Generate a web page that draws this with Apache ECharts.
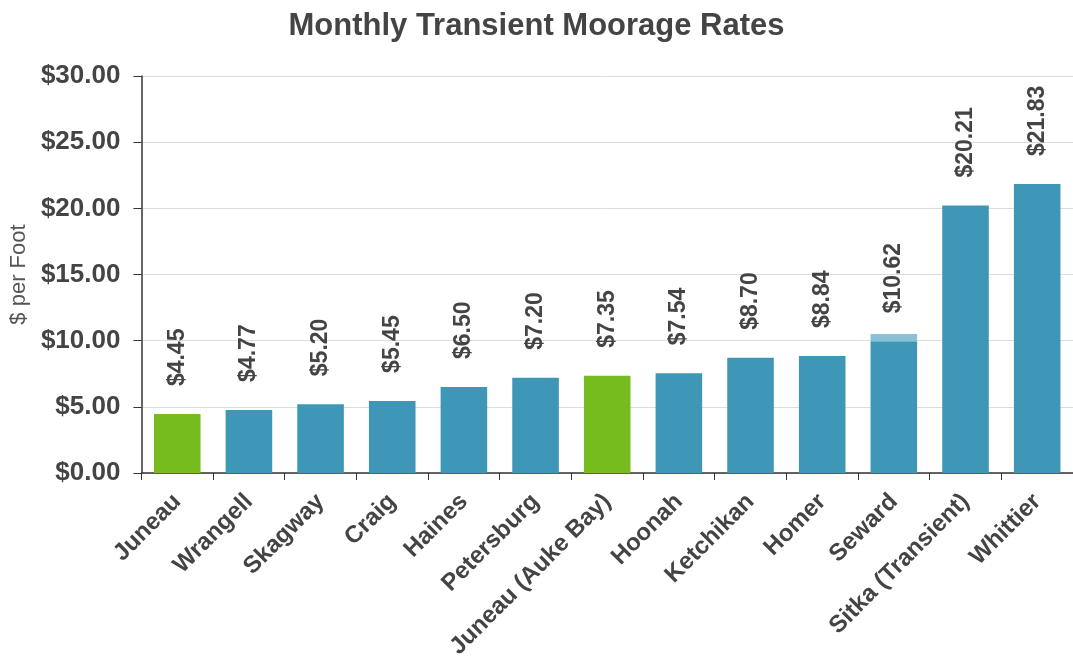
<!DOCTYPE html>
<html>
<head>
<meta charset="utf-8">
<script src="https://cdn.jsdelivr.net/npm/echarts@6/dist/echarts.min.js"></script>
<style>
  html, body { margin: 0; padding: 0; background: #fff; }
  #chart { width: 1073px; height: 670px; }
</style>
</head>
<body>
<div id="chart"></div>
<script>
  // data
  const harbors = ['Juneau', 'Wrangell', 'Skagway', 'Craig', 'Haines', 'Petersburg', 'Juneau (Auke Bay)',
    'Hoonah', 'Ketchikan', 'Homer', 'Seward', 'Sitka (Transient)', 'Whittier']
  const rates = [4.45, 4.77, 5.20, 5.45, 6.50, 7.20, 7.35, 7.54, 8.70, 8.84, 10.62, 20.21, 21.83]
  // Seward bar is drawn with a lighter cap on top
  const baseDrawn = [4.45, 4.77, 5.20, 5.45, 6.50, 7.20, 7.35, 7.54, 8.70, 8.84, 9.95, 20.21, 21.83]
  const capDrawn = [0, 0, 0, 0, 0, 0, 0, 0, 0, 0, 0.55, 0, 0]
  const juneauOwned = ['Juneau', 'Juneau (Auke Bay)']

  const blue = '#3f97b8'
  const green = '#76bc1f'
  const textColor = '#444'
  const font = 'Liberation Sans, Arial, sans-serif'

  const chart = echarts.init(document.getElementById('chart'))

  chart.setOption({
    animation: false,
    textStyle: { fontFamily: font },
    title: {
      text: 'Monthly Transient Moorage Rates',
      left: 'center',
      top: 6,
      textStyle: { fontSize: 31, fontWeight: 'bold', color: textColor, fontFamily: font }
    },
    grid: { left: 139, right: 0, top: 76, bottom: 197 },
    xAxis: {
      type: 'category',
      data: harbors,
      axisLine: { lineStyle: { color: '#333', width: 1.5 } },
      axisTick: { show: true, alignWithLabel: false, length: 7, lineStyle: { color: '#333' } },
      axisLabel: {
        rotate: 45,
        interval: 0,
        margin: 25,
        fontSize: 24,
        fontWeight: 'bold',
        color: textColor,
        fontFamily: font
      }
    },
    yAxis: {
      type: 'value',
      min: 0,
      max: 30,
      interval: 5,
      name: '$ per Foot',
      nameLocation: 'middle',
      nameRotate: 90,
      nameGap: 110,
      nameTextStyle: { fontSize: 22, color: '#555', fontFamily: font },
      axisLine: { show: true, lineStyle: { color: '#333', width: 1.5 } },
      axisTick: { show: true, length: 8, lineStyle: { color: '#333' } },
      splitLine: { lineStyle: { color: '#dcdcdc' } },
      axisLabel: {
        formatter: v => '$' + v.toFixed(2),
        fontSize: 26,
        fontWeight: 'bold',
        color: textColor,
        margin: 21,
        fontFamily: font
      }
    },
    series: [
      {
        name: 'rate',
        type: 'bar',
        stack: 'r',
        barWidth: '65%',
        data: baseDrawn.map((v, i) => ({
          value: v,
          itemStyle: { color: juneauOwned.includes(harbors[i]) ? green : blue }
        })),
        label: {
          show: true,
          position: 'top',
          distance: 28,
          rotate: 90,
          align: 'left',
          verticalAlign: 'middle',
          fontSize: 23,
          fontWeight: 'bold',
          color: textColor,
          fontFamily: font,
          formatter: p => '$' + rates[p.dataIndex].toFixed(2)
        }
      },
      {
        name: 'cap',
        type: 'bar',
        stack: 'r',
        barWidth: '65%',
        itemStyle: { color: '#8cc0d4' },
        data: capDrawn.map(v => v || '-')
      }
    ]
  })
</script>
</body>
</html>
